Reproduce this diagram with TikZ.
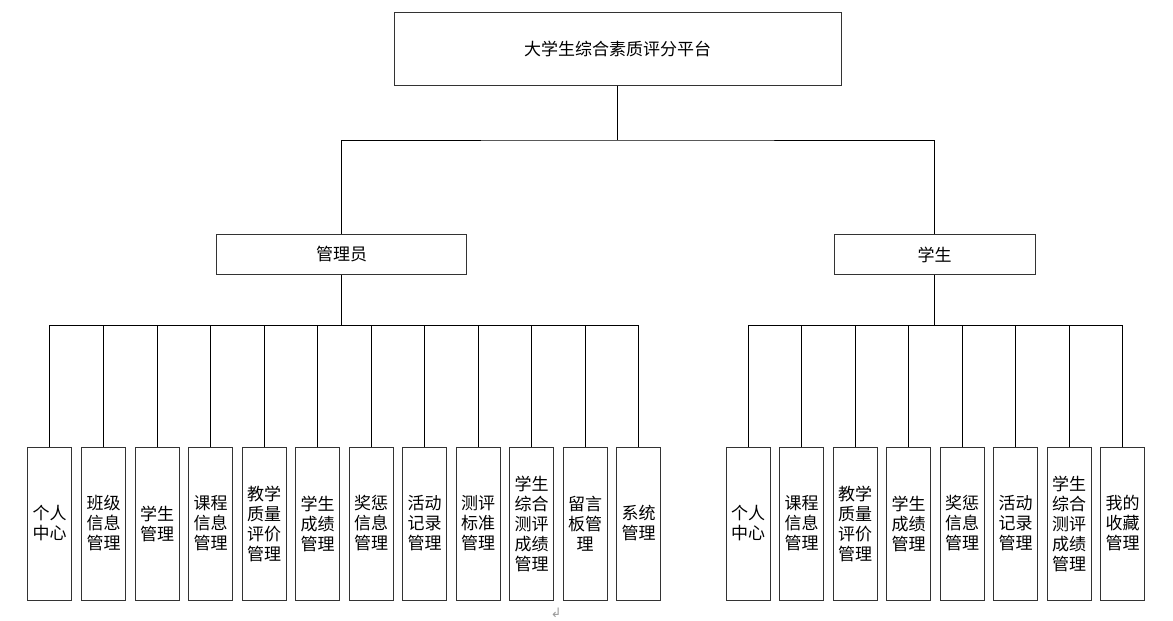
\documentclass[tikz,border=0pt]{standalone}
\usepackage{fontspec}
\setmainfont{Noto Sans CJK SC}
\newfontfamily\symfont{DejaVu Sans}
\usetikzlibrary{positioning}
\definecolor{boxline}{HTML}{333333}
\definecolor{markgray}{HTML}{9A9A9A}

\tikzset{
  topbox/.style={draw=boxline, line width=1pt, fill=white, minimum width=447pt, minimum height=73pt, inner sep=0pt, font=\fontsize{17}{20}\selectfont},
  rolebox/.style={draw=boxline, line width=1pt, fill=white, minimum height=40pt, inner sep=0pt, font=\fontsize{17}{20}\selectfont},
  leafbox/.style={draw=boxline, line width=1pt, fill=white, minimum width=44pt, minimum height=153pt, inner sep=0pt, align=center, font=\fontsize{17}{20}\selectfont},
  link/.style={draw=black, line width=1pt}
}

\begin{document}
\begin{tikzpicture}[x=1pt,y=-1pt]
\useasboundingbox (0,0) rectangle (1173,621);

\node[topbox] (top) at (617.5,48.5) {大学生综合素质评分平台};
\node[rolebox, minimum width=250pt] (admin) at (341.5,254.5) {管理员};
\node[rolebox, minimum width=201pt] (stu) at (934.5,254.5) {学生};

% joints
\coordinate (j0) at (617.5,140);
\coordinate (ja) at (341.5,325);
\coordinate (js) at (934.5,325);

\draw[link] (top.south) -- (j0);
\draw[link] (admin.north) |- (j0) -| (stu.north);
\draw[link] (admin.south) -- (ja);
\draw[link] (stu.south) -- (js);

% admin functions
\foreach \i/\x/\t in {1/49.5/个人\\中心, 2/103.5/班级\\信息\\管理, 3/157/学生\\管理, 4/210.5/课程\\信息\\管理, 5/264/教学\\质量\\评价\\管理, 6/317.5/学生\\成绩\\管理, 7/371/奖惩\\信息\\管理, 8/424.5/活动\\记录\\管理, 9/478/测评\\标准\\管理, 10/531.5/学生\\综合\\测评\\成绩\\管理, 11/585/留言\\板管\\理, 12/638.5/系统\\管理}{
  \node[leafbox] (a\i) at (\x,523.5) {\t};
  \draw[link] (a\i.north) |- (ja);
}

% student functions
\foreach \i/\x/\t in {1/748/个人\\中心, 2/801.5/课程\\信息\\管理, 3/855/教学\\质量\\评价\\管理, 4/908.5/学生\\成绩\\管理, 5/962/奖惩\\信息\\管理, 6/1015.5/活动\\记录\\管理, 7/1069/学生\\综合\\测评\\成绩\\管理, 8/1122.5/我的\\收藏\\管理}{
  \node[leafbox] (s\i) at (\x,523.5) {\t};
  \draw[link] (s\i.north) |- (js);
}

\node[text=markgray, font=\symfont\fontsize{13}{13}\selectfont, inner sep=0pt] (mark) at (556,613) {↲};
\end{tikzpicture}
\end{document}
